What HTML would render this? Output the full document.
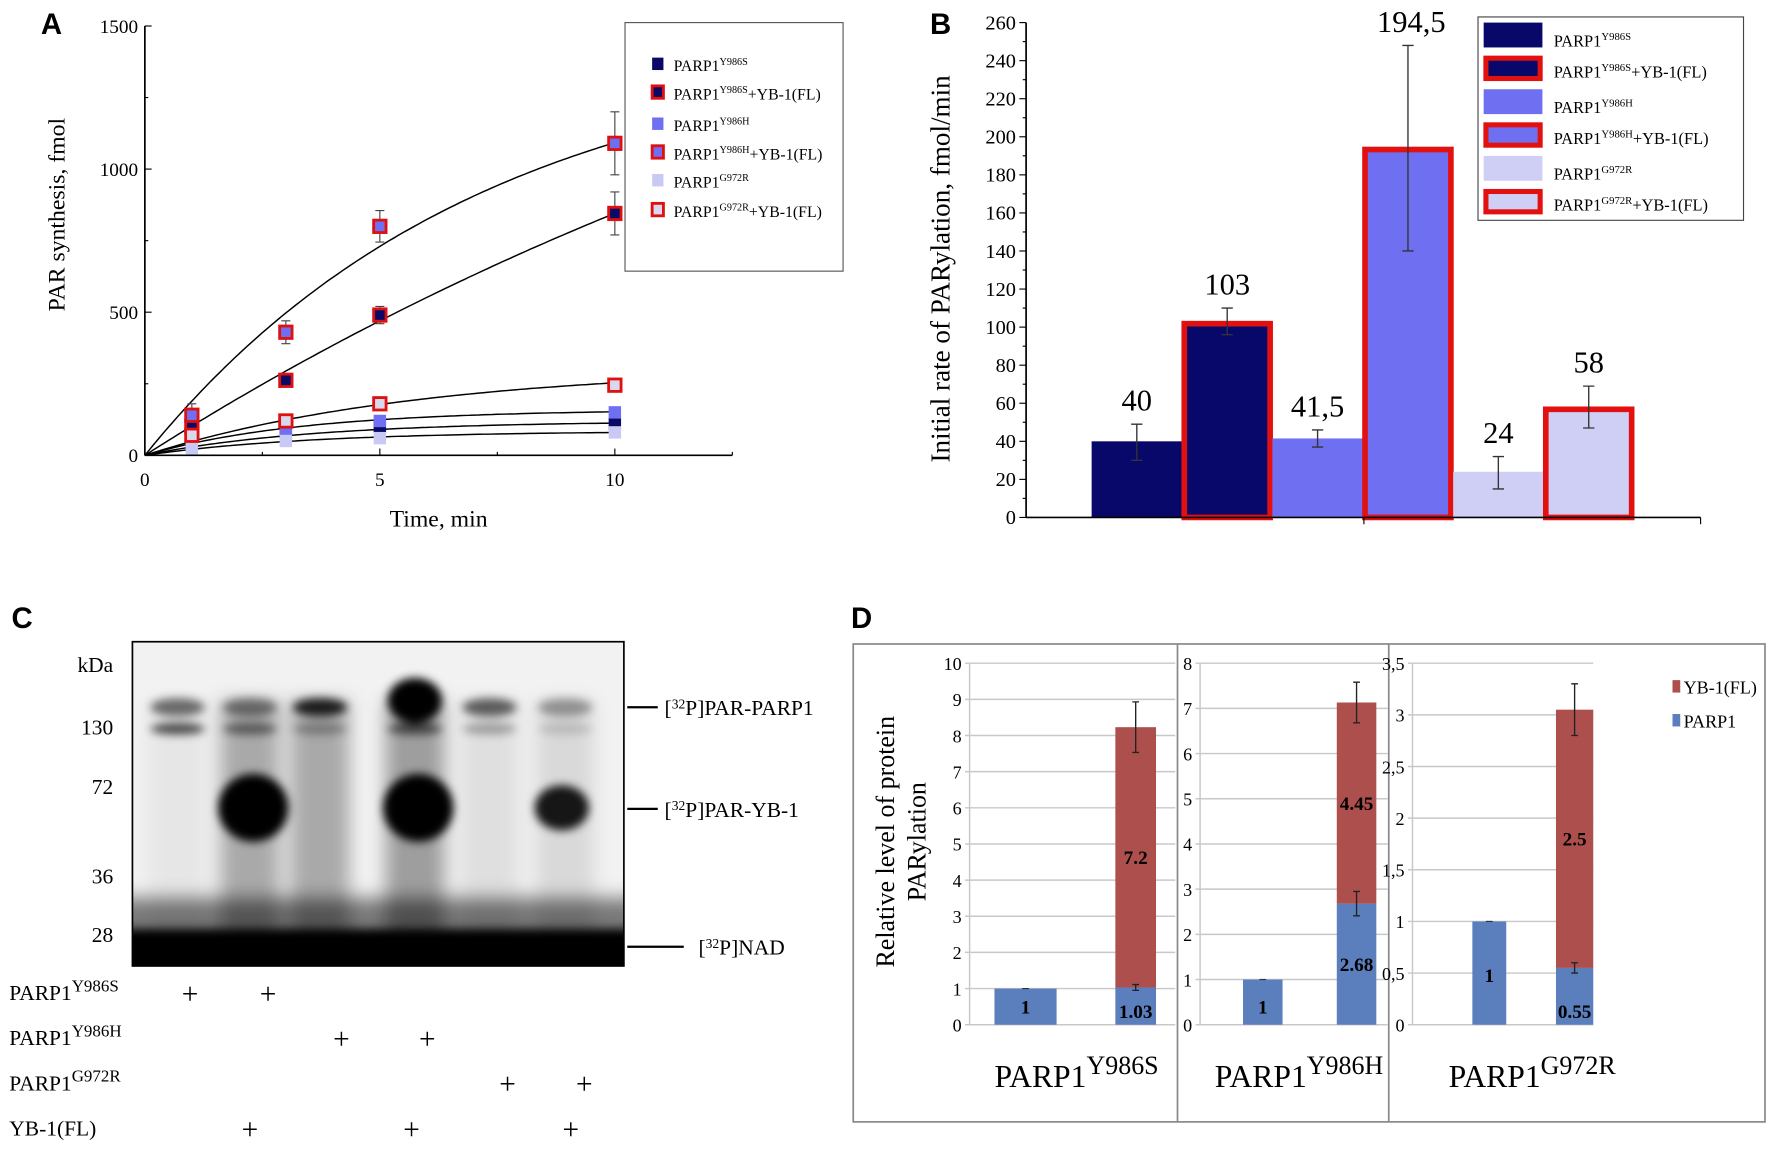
<!DOCTYPE html>
<html><head><meta charset="utf-8"><style>
html,body{margin:0;padding:0;background:#fff;}
svg{display:block;font-family:"Liberation Serif",serif;}
.sans{font-family:"Liberation Sans",sans-serif;font-weight:bold;}
</style></head><body>
<svg id="fig" width="1772" height="1149" viewBox="0 0 1568 1017" xmlns="http://www.w3.org/2000/svg">
<defs>
<filter id="blur4" x="-50%" y="-50%" width="200%" height="200%"><feGaussianBlur stdDeviation="4"/></filter>
<filter id="blur8" x="-50%" y="-50%" width="200%" height="200%"><feGaussianBlur stdDeviation="8"/></filter>
<clipPath id="gelclip"><rect x="117" y="568" width="435" height="287"/></clipPath>
</defs>
<g id="panelA"></g>
<g id="panelB"></g>
<g id="panelC"></g>
<g id="panelD"></g>
</svg>
<script>
// ---------- Panel A data ----------
const aTimes = [0, 1, 3, 5, 10];
const aSeriesNames = ["Y986S", "Y986S+YB-1(FL)", "Y986H", "Y986H+YB-1(FL)", "G972R", "G972R+YB-1(FL)"];
const aY986S = [0, 95, 80, 100, 110];
const aY986S_YB = [0, 100, 262, 490, 845];
const aY986H = [0, 45, 90, 120, 150];
const aY986H_YB = [0, 140, 430, 800, 1090];
const aG972R = [0, 25, 50, 60, 80];
const aG972R_YB = [0, 70, 120, 180, 245];
const aY986S_YB_err = [0, 20, 15, 30, 75];
const aY986H_YB_err = [0, 40, 40, 55, 110];
const aFitMax = [120, 2350, 160, 1450, 85, 310];
const aFitK = [0.28, 0.0446, 0.3, 0.14, 0.28, 0.17];
const aYTicks = [0, 500, 1000, 1500];
const aXTicks = [0, 5, 10];

// ---------- Panel B data ----------
const bCategories = ["Y986S", "Y986S+YB-1(FL)", "Y986H", "Y986H+YB-1(FL)", "G972R", "G972R+YB-1(FL)"];
const bValues = [40, 103, 41.5, 194.5, 24, 58];
const bLabels = ["40", "103", "41,5", "194,5", "24", "58"];
const bErrLow = [30, 96, 37, 140, 15, 47];
const bErrHigh = [49, 110, 46, 248, 32, 69];
const bYTicks = [0,20,40,60,80,100,120,140,160,180,200,220,240,260];

// ---------- Panel D data ----------
const dGroups = ["Y986S", "Y986H", "G972R"];
const dPARP1Single = [1, 1, 1];
const dPARP1Stack = [1.03, 2.68, 0.55];
const dYB1Stack = [7.2, 4.45, 2.5];
const dPARP1Labels = ["1.03", "2.68", "0.55"];
const dYB1Labels = ["7.2", "4.45", "2.5"];
const dTotalErr = [0.7, 0.45, 0.25];
const dPARP1Err = [0.08, 0.27, 0.05];
const dAxisMax = [10, 8, 3.5];
const dTickStep = [1, 1, 0.5];

const NS = "http://www.w3.org/2000/svg";
function mk(parent, tag, attrs, text){
  const e = document.createElementNS(NS, tag);
  for (const k in attrs) e.setAttribute(k, attrs[k]);
  if (text !== undefined) e.textContent = text;
  parent.appendChild(e);
  return e;
}
function supText(parent, x, y, base, sup, size, supSize, anchor){
  const t = mk(parent, "text", {x:x, y:y, "font-size":size, "text-anchor":anchor||"start"});
  const s1 = document.createElementNS(NS,"tspan"); s1.textContent = base; t.appendChild(s1);
  const s2 = document.createElementNS(NS,"tspan"); s2.setAttribute("dy", -size*0.4); s2.setAttribute("font-size", supSize); s2.textContent = sup; t.appendChild(s2);
  return t;
}

// ================= Panel A =================
(function(){
  const g = document.getElementById("panelA");
  const x0 = 128, xPerUnit = 41.6, y0 = 403, yPerUnit = 380/1500;
  const X = v => x0 + v*xPerUnit;
  const Y = v => y0 - v*yPerUnit;
  let t = mk(g,"text",{x:36,y:30,"font-size":26,class:"sans"},"A");
  
  
  let ax = mk(g,"line",{x1:x0,y1:Y(1500),x2:x0,y2:y0,stroke:"#000","stroke-width":1.5});
  
  
  ax = mk(g,"line",{x1:x0,y1:y0,x2:648,y2:y0,stroke:"#000","stroke-width":1.5});
  
  
  for (let v=0; v<=1500; v+=250){
    mk(g,"line",{x1:x0,y1:Y(v),x2:x0+(v%500===0?6:3),y2:Y(v),stroke:"#000"});
  }
  aYTicks.forEach(v=>{
    const e = mk(g,"text",{x:x0-6,y:Y(v)+6,"font-size":17,"text-anchor":"end"},String(v));
    
    
  });
  for (let v=0; v<=12.5; v+=2.5){
    mk(g,"line",{x1:X(v),y1:y0,x2:X(v),y2:y0-(v%5===0?6:3),stroke:"#000"});
  }
  aXTicks.forEach(v=>{
    const e = mk(g,"text",{x:X(v),y:y0+27,"font-size":17,"text-anchor":"middle"},String(v));
    
    
  });
  t = mk(g,"text",{x:388,y:466,"font-size":21,"text-anchor":"middle"},"Time, min");
  
  
  t = mk(g,"text",{x:0,y:0,"font-size":21,"text-anchor":"middle",transform:"translate(57,190) rotate(-90)"},"PAR synthesis, fmol");
  
  

  const series = [aY986S, aY986S_YB, aY986H, aY986H_YB, aG972R, aG972R_YB];
  const errs = [null, aY986S_YB_err, null, aY986H_YB_err, null, null];
  const fills = ["#0a0a66","#0a0a66","#6f6ff2","#6f6ff2","#c9c9f5","#d9d9ee"];
  const red = [false,true,false,true,false,true];
  series.forEach((s,i)=>{
    let d = "";
    for (let tt=0; tt<=10.001; tt+=0.1){
      const v = aFitMax[i]*(1-Math.exp(-aFitK[i]*tt));
      d += (d?"L":"M")+X(tt).toFixed(1)+","+Y(v).toFixed(1);
    }
    const p = mk(g,"path",{d:d,fill:"none",stroke:"#000","stroke-width":1.3});
    
    
  });
  series.forEach((s,i)=>{
    if (!errs[i]) return;
    s.forEach((v,j)=>{
      if (j===0) return;
      const e = errs[i][j];
      const eb = mk(g,"path",{d:`M${X(aTimes[j])},${Y(v+e)}V${Y(v-e)}M${X(aTimes[j])-4},${Y(v+e)}h8M${X(aTimes[j])-4},${Y(v-e)}h8`,stroke:"#444","stroke-width":1,fill:"none"});
      
      
    });
  });
  [0,2,4,1,3,5].forEach(i=>{
    series[i].forEach((v,j)=>{
      if (j===0) return;
      const sz = 11;
      const r = mk(g,"rect",{x:X(aTimes[j])-sz/2,y:Y(v)-sz/2,width:sz,height:sz,fill:fills[i],stroke:red[i]?"#e01010":"none","stroke-width":red[i]?2.5:0});
      
      
    });
  });
  const lg = mk(g,"g",{});
  
  
  mk(lg,"rect",{x:553,y:20,width:193,height:220,fill:"#fff",stroke:"#555","stroke-width":1});
  const ly = [57,82,110,135,160,186];
  const sups = ["Y986S","Y986S","Y986H","Y986H","G972R","G972R"];
  series.forEach((s,i)=>{
    const r = mk(lg,"rect",{x:577,y:ly[i]-6,width:10,height:11,fill:fills[i],stroke:red[i]?"#e01010":"none","stroke-width":red[i]?2.5:0});
    
    
    const tx = supText(lg,596,ly[i]+6,"PARP1",sups[i],14,9);
    if (red[i]){ const s3=document.createElementNS(NS,"tspan"); s3.setAttribute("dy",5.6); s3.setAttribute("font-size",14); s3.textContent="+YB-1(FL)"; tx.appendChild(s3); }
    
    
  });
})();

// ================= Panel B =================
(function(){
  const g = document.getElementById("panelB");
  const x0 = 908, y0 = 458, yPer = 438/260, barW = 80, firstX = 966;
  const Y = v => y0 - v*yPer;
  const XB = i => firstX + i*barW;
  let t = mk(g,"text",{x:823,y:30,"font-size":26,class:"sans"},"B");
  
  
  const cols = ["#08086a","#08086a","#6f6ff2","#6f6ff2","#cfcff6","#cfcff6"];
  const red = [false,true,false,true,false,true];
  bValues.forEach((v,i)=>{
    const r = mk(g,"rect",{x:XB(i)+(red[i]?2:0),y:Y(v)+(red[i]?2:0),width:barW-(red[i]?4:0),height:(y0-Y(v))-(red[i]?2:0),fill:cols[i],stroke:red[i]?"#e31010":"none","stroke-width":red[i]?5:0});
    
    
  });
  bValues.forEach((v,i)=>{
    const cx = XB(i)+barW/2;
    const eb = mk(g,"path",{d:`M${cx},${Y(bErrHigh[i])}V${Y(bErrLow[i])}M${cx-5},${Y(bErrHigh[i])}h10M${cx-5},${Y(bErrLow[i])}h10`,stroke:"#333","stroke-width":1.2,fill:"none"});
    
    
    const top = i===3? bErrHigh[i] : Math.max(v,bErrHigh[i]);
    const lbl = mk(g,"text",{x:cx-(i===3?-3:0),y:Y(top)-12,"font-size":27,"text-anchor":"middle"},bLabels[i]);
    
    
  });
  let ax = mk(g,"line",{x1:x0,y1:Y(260),x2:x0,y2:y0,stroke:"#000","stroke-width":1.5});
  
  
  ax = mk(g,"line",{x1:x0,y1:y0,x2:1505,y2:y0,stroke:"#000","stroke-width":1.5});
  
  
  mk(g,"line",{x1:1207,y1:y0,x2:1207,y2:y0+6,stroke:"#000"});
  mk(g,"line",{x1:1505,y1:y0,x2:1505,y2:y0+6,stroke:"#000"});
  for (let v=0; v<=260; v+=10) mk(g,"line",{x1:x0-(v%20===0?6:3),y1:Y(v),x2:x0,y2:Y(v),stroke:"#000"});
  bYTicks.forEach(v=>{
    const e = mk(g,"text",{x:x0-9,y:Y(v)+6,"font-size":18,"text-anchor":"end"},String(v));
    
    
  });
  t = mk(g,"text",{x:0,y:0,"font-size":24,"text-anchor":"middle",transform:"translate(840,238) rotate(-90)"},"Initial rate of PARylation, fmol/min");
  
  
  const lg = mk(g,"g",{});
  
  
  mk(lg,"rect",{x:1308,y:15,width:235,height:180,fill:"#fff",stroke:"#444","stroke-width":1});
  const sups = ["Y986S","Y986S","Y986H","Y986H","G972R","G972R"];
  bCategories.forEach((c,i)=>{
    const yy = 20 + i*29.5;
    const r = mk(lg,"rect",{x:1313+(red[i]?2:0),y:yy+(red[i]?2:0),width:52-(red[i]?4:0),height:22-(red[i]?4:0),fill:cols[i],stroke:red[i]?"#e31010":"none","stroke-width":red[i]?4.5:0});
    
    
    const tx = supText(lg,1375,yy+(red[i]?19:21),"PARP1",sups[i],14.5,9.5);
    if (red[i]){ const s3=document.createElementNS(NS,"tspan"); s3.setAttribute("dy",5.8); s3.setAttribute("font-size",14.5); s3.textContent="+YB-1(FL)"; tx.appendChild(s3); }
    
    
  });
})();

// ================= Panel C =================
(function(){
  const g = document.getElementById("panelC");
  let t = mk(g,"text",{x:10,y:556,"font-size":26,class:"sans"},"C");
  
  
  const gel = mk(g,"g",{"clip-path":"url(#gelclip)"});
  
  
  mk(gel,"rect",{x:117,y:568,width:435,height:287,fill:"#f2f2f2"});
  const lanes = [157,221,283,367,433,500];
  const smear = [0.05,0.3,0.3,0.35,0.08,0.1];
  const parpA = [0.55,0.45,0.85,1,0.6,0.35];
  const parpB = [0.7,0.5,0.3,0.6,0.3,0.15];
  const yb = [0,1,0,1,0,0.9];
  const bl = mk(gel,"g",{filter:"url(#blur8)"});
  lanes.forEach((x,i)=>{ mk(bl,"rect",{x:x-26,y:620,width:52,height:220,fill:"#000",opacity:smear[i]}); });
  mk(bl,"rect",{x:100,y:795,width:470,height:40,fill:"#000",opacity:0.5});
  const b4 = mk(gel,"g",{filter:"url(#blur4)"});
  lanes.forEach((x,i)=>{
    mk(b4,"ellipse",{cx:x,cy:i===3?620:626,rx:24,ry:i===3?20:8,fill:"#000",opacity:parpA[i]});
    mk(b4,"ellipse",{cx:x,cy:645,rx:24,ry:5,fill:"#000",opacity:parpB[i]});
    if (yb[i]) mk(b4,"ellipse",{cx:x+(i===5?-3:3),cy:715,rx:i===5?24:31,ry:i===5?20:30,fill:"#000",opacity:yb[i]});
  });
  mk(b4,"rect",{x:110,y:822,width:450,height:40,fill:"#000"});
  mk(g,"rect",{x:117,y:568,width:435,height:287,fill:"none",stroke:"#000","stroke-width":1.5});
  const kd = [["kDa",595],["130",650],["72",703],["36",782],["28",834]];
  kd.forEach(k=>{
    const e = mk(g,"text",{x:100,y:k[1],"font-size":19,"text-anchor":"end"},k[0]);
    
    
  });
  const rl = [[626,582,588,"PAR-PARP1"],[716,582,588,"PAR-YB-1"],[838,605,618,"NAD"]];
  rl.forEach(r=>{
    mk(g,"line",{x1:555,y1:r[0],x2:r[1],y2:r[0],stroke:"#000","stroke-width":2});
    const e = mk(g,"text",{x:r[2],y:r[0]+7,"font-size":19});
    const a=document.createElementNS(NS,"tspan"); a.textContent="["; e.appendChild(a);
    const b=document.createElementNS(NS,"tspan"); b.setAttribute("font-size",12); b.setAttribute("dy",-6); b.textContent="32"; e.appendChild(b);
    const c=document.createElementNS(NS,"tspan"); c.setAttribute("dy",6); c.textContent="P]"+r[3]; e.appendChild(c);
    
    
  });
  const rows = [["PARP1","Y986S",885,[168,237]],["PARP1","Y986H",925,[302,378]],["PARP1","G972R",965,[449,517]],["YB-1(FL)","",1005,[221,364,505]]];
  rows.forEach(r=>{
    const e = r[1]? supText(g,8,r[2],r[0],r[1],19,15) : mk(g,"text",{x:8,y:r[2],"font-size":19},r[0]);
    
    
    r[3].forEach(x=>{
      const p = mk(g,"text",{x:x,y:r[2]+3,"font-size":26,"text-anchor":"middle"},"+");
      
      
    });
  });
})();

// ================= Panel D =================
(function(){
  const g = document.getElementById("panelD");
  let t = mk(g,"text",{x:753,y:556,"font-size":26,class:"sans"},"D");
  
  
  mk(g,"rect",{x:755,y:570,width:807,height:423,fill:"#fff",stroke:"#888","stroke-width":1.5});
  mk(g,"line",{x1:1042,y1:570,x2:1042,y2:993,stroke:"#888","stroke-width":1.5});
  mk(g,"line",{x1:1229,y1:570,x2:1229,y2:993,stroke:"#888","stroke-width":1.5});
  const axX = [858,1062,1250];
  const gridEnd = [1040,1228,1410];
  const b1 = [[880,935],[1100,1135],[1303,1333]];
  const b2 = [[987,1023],[1183,1218],[1377,1410]];
  const y0 = 907, yTop = 587;
  dGroups.forEach((grp,i)=>{
    const Y = v => y0 - v/dAxisMax[i]*(y0-yTop);
    const n = Math.round(dAxisMax[i]/dTickStep[i]);
    for (let k=0;k<=n;k++){
      const v = k*dTickStep[i];
      mk(g,"line",{x1:axX[i]-4,y1:Y(v),x2:gridEnd[i],y2:Y(v),stroke:"#c8c8c8","stroke-width":1.3});
      const lab = (Math.round(v*10)/10).toString().replace(".",",");
      const e = mk(g,"text",{x:axX[i]-7,y:Y(v)+6,"font-size":16,"text-anchor":"end"},lab);
      
      
    }
    mk(g,"line",{x1:axX[i],y1:yTop,x2:axX[i],y2:y0,stroke:"#c8c8c8","stroke-width":1.3});
    let r = mk(g,"rect",{x:b1[i][0],y:Y(dPARP1Single[i]),width:b1[i][1]-b1[i][0],height:y0-Y(dPARP1Single[i]),fill:"#5b7fbd"});
    
    
    r = mk(g,"rect",{x:b2[i][0],y:Y(dPARP1Stack[i]),width:b2[i][1]-b2[i][0],height:y0-Y(dPARP1Stack[i]),fill:"#5b7fbd"});
    
    
    const tot = dPARP1Stack[i]+dYB1Stack[i];
    r = mk(g,"rect",{x:b2[i][0],y:Y(tot),width:b2[i][1]-b2[i][0],height:Y(dPARP1Stack[i])-Y(tot),fill:"#ad4f4c"});
    
    
    const c1=(b1[i][0]+b1[i][1])/2, c2=(b2[i][0]+b2[i][1])/2;
    mk(g,"line",{x1:c1-3,y1:Y(1),x2:c1+3,y2:Y(1),stroke:"#333"});
    [[tot,dTotalErr[i]],[dPARP1Stack[i],dPARP1Err[i]]].forEach(e=>{
      const eb = mk(g,"path",{d:`M${c2},${Y(e[0]+e[1])}V${Y(e[0]-e[1])}M${c2-3},${Y(e[0]+e[1])}h6M${c2-3},${Y(e[0]-e[1])}h6`,stroke:"#222","stroke-width":1.2,fill:"none"});
      
      
    });
    const fs = 17;
    let e = mk(g,"text",{x:c1,y:i===2?Y(0.5)+8:y0-10,"font-size":fs,"font-weight":"bold","text-anchor":"middle"},"1");
    
    
    const pl = i===1 ? Y(dPARP1Stack[i]/2)+6 : y0-6;
    e = mk(g,"text",{x:c2,y:pl,"font-size":fs,"font-weight":"bold","text-anchor":"middle"},dPARP1Labels[i]);
    
    
    e = mk(g,"text",{x:c2,y:Y(dPARP1Stack[i]+dYB1Stack[i]/2)+6,"font-size":fs,"font-weight":"bold","text-anchor":"middle"},dYB1Labels[i]);
    
    
  });
  const titles = [[880,962,"Y986S"],[1075,962,"Y986H"],[1282,962,"G972R"]];
  titles.forEach(tt=>{
    const e = supText(g,tt[0],tt[1],"PARP1",tt[2],28,23);
    
    
  });
  t = mk(g,"text",{x:0,y:0,"font-size":23,"text-anchor":"middle",transform:"translate(791,745) rotate(-90)"},"Relative level of protein");
  
  
  t = mk(g,"text",{x:0,y:0,"font-size":23,"text-anchor":"middle",transform:"translate(819,745) rotate(-90)"},"PARylation");
  
  
  const lg = mk(g,"g",{});
  
  
  mk(lg,"rect",{x:1480,y:602,width:7,height:11,fill:"#ad4f4c"});
  mk(lg,"text",{x:1490,y:614,"font-size":16},"YB-1(FL)");
  mk(lg,"rect",{x:1480,y:632,width:7,height:11,fill:"#5b7fbd"});
  mk(lg,"text",{x:1490,y:644,"font-size":16},"PARP1");
})();
</script>
</body></html>
